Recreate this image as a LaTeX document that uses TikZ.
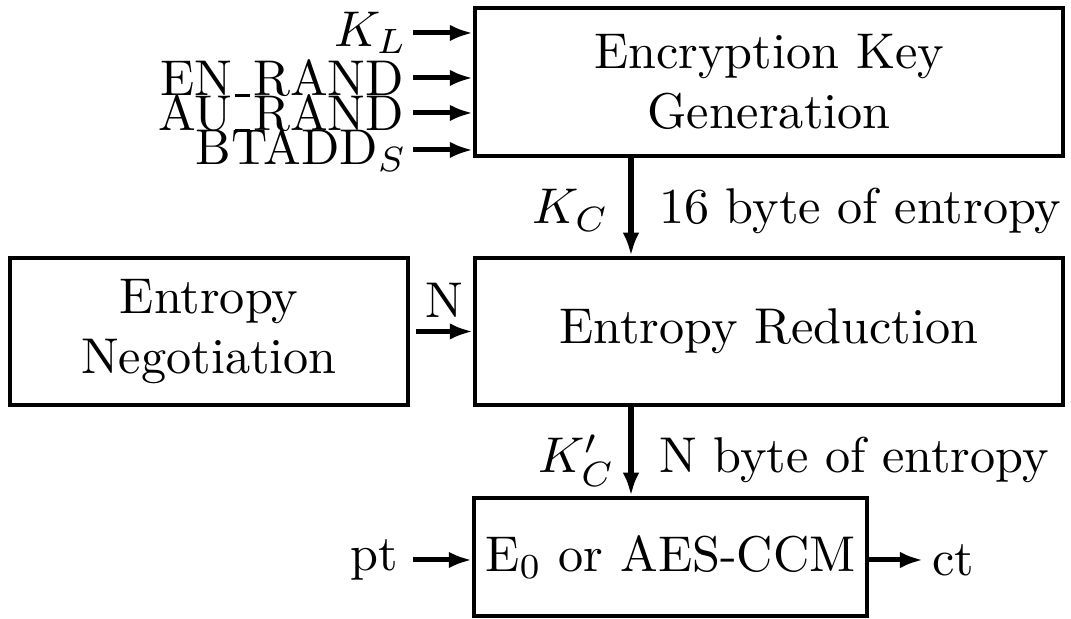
\documentclass[tikz,border=0pt]{standalone}
\usetikzlibrary{arrows.meta}
% low rule used as the underscore in signal names
\newcommand\lowbar{\kern.06em\rule[-0.3pt]{.3em}{.45pt}\kern.06em}
\begin{document}
\begin{tikzpicture}[x=0.199pt,y=-0.199pt,
  blk/.style={draw, line width=0.85pt, inner sep=0pt, align=center},
  lbl/.style={inner sep=0pt},
  arr/.style={line width=1pt, -{Latex[length=4.6pt,width=3.3pt]}}]
\useasboundingbox (0,0) rectangle (1071,619);

% blocks
\node[blk, minimum width=117pt, minimum height=29.45pt] (keygen) at (769,82)
  {Encryption Key\\Generation};
\node[blk, minimum width=117pt, minimum height=29.25pt] (reduce) at (769,331.5)
  {Entropy Reduction};
\node[blk, minimum width=79.2pt, minimum height=29.25pt] (negot) at (209,331.5)
  {Entropy\\Negotiation};
\node[blk, minimum width=78.2pt, minimum height=23.5pt] (cipher) at (670.5,557)
  {E$_0$ or AES-CCM};

% inputs of the key generation
\node[lbl, anchor=east] (kl)  at (408,33)  {$K_L$};
\node[lbl, anchor=east] (enr) at (405,78)  {EN\lowbar RAND};
\node[lbl, anchor=east] (aur) at (405,113) {AU\lowbar RAND};
\node[lbl, anchor=east] (bta) at (408,150) {BTADD$_S$};
\coordinate (inx) at (413,0);
\foreach \n in {kl,enr,aur,bta}
  \draw[arr] (\n.east -| inx) -- (\n.east -| keygen.west);

% key flow down the chain
\coordinate (kx) at (631,0);
\draw[arr] (keygen.south -| kx) -- (reduce.north -| kx);
\node[lbl, anchor=base east] (kc) at (610,224) {$K_C$};
\node[lbl, anchor=base west] (kcinfo) at (658,224) {16 byte of entropy};
\draw[arr] (reduce.south -| kx) -- (cipher.north -| kx);
\node[lbl, anchor=base east] (kcp) at (616,473) {$K_C'$};
\node[lbl, anchor=base west] (kcpinfo) at (658,473) {N byte of entropy};

% negotiated length
\draw[arr] (negot.east) ++(6,0) coordinate (ns) -- (ns -| reduce.west)
  node[midway, above=2.2pt, inner sep=0pt] (n) {N};

% plaintext in, ciphertext out
\coordinate (io) at (0,560);
\node[lbl, anchor=east] (pt) at (399,560) {pt};
\draw[arr] (io -| inx) -- (io -| cipher.west);
\coordinate (ctend) at (923,560);
\draw[arr] (io -| cipher.east) -- (ctend);
\node[lbl, anchor=west] (ct) at (931,560) {ct};
\end{tikzpicture}
\end{document}
